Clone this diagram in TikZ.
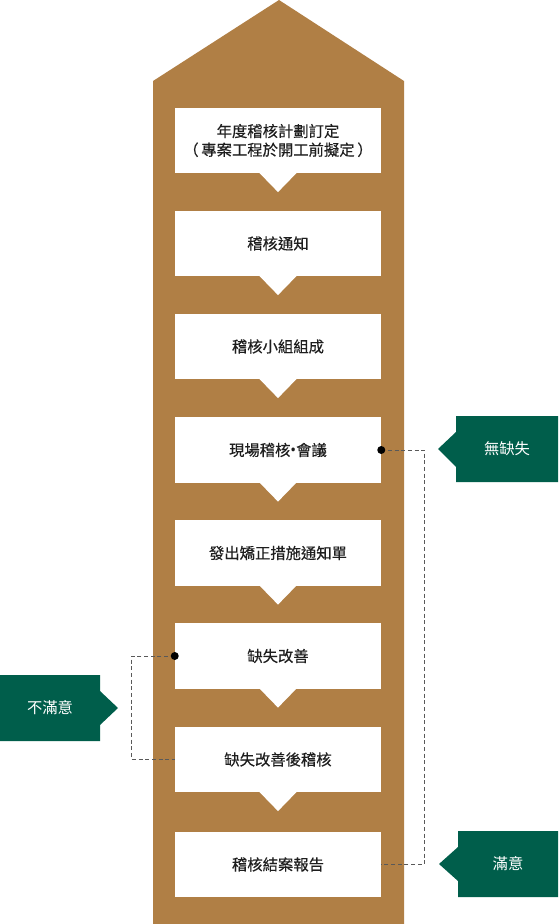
\documentclass[tikz,border=0pt]{standalone}
\usepackage{fontspec}
\setmainfont{Noto Sans CJK TC}
\newfontfamily\boxfont{Noto Sans CJK TC}[FakeBold=0.4]
\newfontfamily\dotfont{Noto Sans}
\usetikzlibrary{positioning,calc}
\definecolor{AuditBrown}{HTML}{B07F45}
\definecolor{AuditGreen}{HTML}{005E4B}
\definecolor{AuditText}{HTML}{1E1E1E}

\begin{document}
\begin{tikzpicture}[x=0.75pt,y=-0.75pt,
    stepbox/.style={fill=white,minimum width=154.5pt,minimum height=49pt,
      inner sep=0pt,align=center,text=AuditText,
      font=\boxfont\fontsize{11.5pt}{14pt}\selectfont},
    tagtext/.style={text=white,font=\fontsize{11.5pt}{14pt}\selectfont},
    loopline/.style={draw=black!65,line width=0.75pt,dash pattern=on 3pt off 2pt}]
  \useasboundingbox (0,0) rectangle (558,924);
  \fill[AuditBrown] (153,924) -- (153,81) -- (279,0) -- (404,81) -- (404,924) -- cycle;
  \node[stepbox] (b1) at (278,140.5) {年度稽核計劃訂定\\（\kern2pt 專案工程於開工前擬定\kern2pt）};
  \node[stepbox] (b2) at (278,243.5) {稽核通知};
  \node[stepbox] (b3) at (278,346.5) {稽核小組組成};
  \node[stepbox] (b4) at (278,450) {現場稽核{\dotfont •}會議};
  \node[stepbox] (b5) at (278,553) {發出矯正措施通知單};
  \node[stepbox] (b6) at (278,656) {缺失改善};
  \node[stepbox] (b7) at (278,759.5) {缺失改善後稽核};
  \node[stepbox] (b8) at (278,864.5) {稽核結案報告};
  \foreach \n in {b1,b2,b3,b4,b5,b6,b7}
    \fill[white] ([xshift=-13.9pt,yshift=0.3pt]\n.south) -- ([xshift=13.9pt,yshift=0.3pt]\n.south)
      -- ([yshift=-14pt]\n.south) -- cycle;
  \fill[AuditGreen] (456,416) -- (558,416) -- (558,482) -- (456,482) -- (456,467) -- (438,449) -- (456,432) -- cycle;
  \node[tagtext] (t1) at (507,449) {無缺失};
  \fill[AuditGreen] (0,675) -- (100,675) -- (100,691) -- (118,708) -- (100,725) -- (100,741) -- (0,741) -- cycle;
  \node[tagtext] (t2) at (50,708) {不滿意};
  \fill[AuditGreen] (458,831) -- (558,831) -- (558,897) -- (458,897) -- (458,881) -- (439,864) -- (458,847) -- cycle;
  \node[tagtext] (t3) at (508,864) {滿意};
  \draw[loopline] (b4.east) -- ++(43,0) |- (b8.east);
  \draw[loopline] (b6.west) -- ++(-43,0) |- (b7.west);
  \fill (b4.east) circle (3pt);
  \fill (b6.west) circle (3pt);
\end{tikzpicture}
\end{document}
